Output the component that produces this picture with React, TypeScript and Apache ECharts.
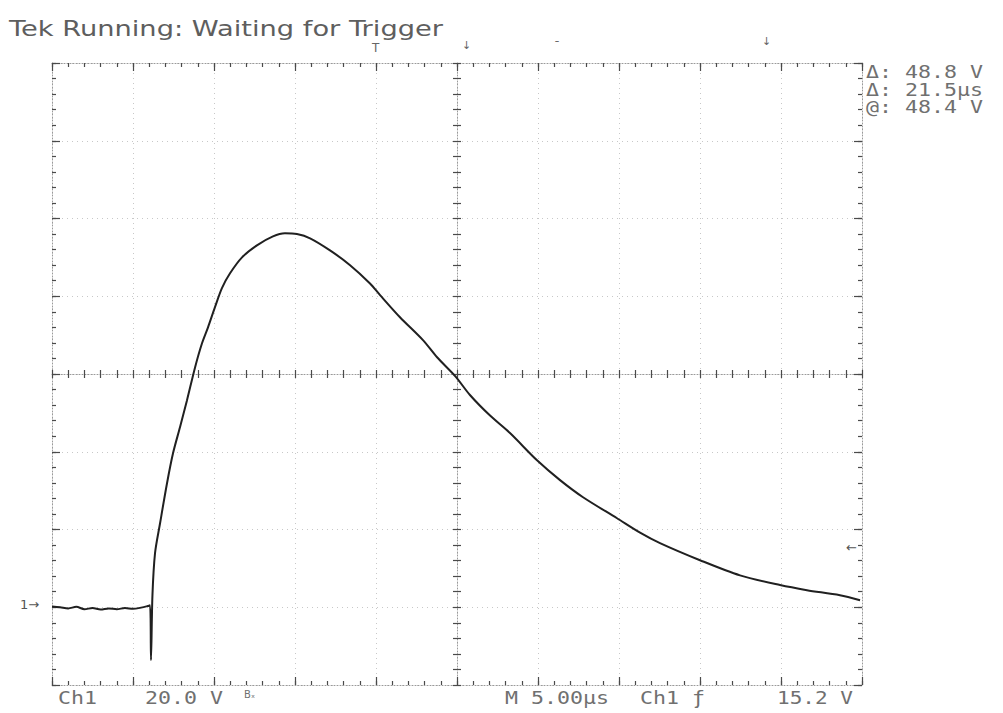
import React, { useEffect, useRef } from "react";
import * as echarts from "echarts";

// Time in microseconds (5 µs/div, 10 div), voltage in volts (20 V/div, ground at 0)
const timeUs = [
  0, 0.5, 1.0, 1.5, 2.0, 2.5, 3.0, 3.5, 4.0, 4.5, 5.0, 5.5, 5.9, 6.05, 6.11, 6.2,
  6.36, 6.67, 7.1, 7.47, 7.9, 8.33, 8.83, 9.26, 9.63, 10.06, 10.49, 10.99, 11.73,
  12.65, 13.64, 14.38, 15.12, 15.93, 17.16, 18.4, 19.63, 20.25, 21.48, 22.9, 23.77,
  24.9, 25.8, 27.04, 28.27, 29.94, 31.36, 32.78, 34.88, 36.3, 37.53, 40.0, 42.47,
  44.94, 46.6, 48.64, 49.88,
];
const voltV = [
  0.2, 0.0, -0.3, 0.1, -0.5, -0.2, -0.6, -0.3, -0.5, -0.2, -0.4, -0.1, 0.3, 0.5, -13.6, 3.0,
  13.9, 21.6, 31.9, 39.6, 46.3, 53.2, 61.7, 67.9, 72.0, 77.2, 82.1, 85.9, 90.0,
  93.1, 95.4, 96.2, 96.0, 94.9, 91.8, 88.0, 83.3, 80.3, 74.6, 68.7, 64.3,
  59.4, 54.6, 49.3, 44.8, 37.8, 32.7, 28.3, 22.9, 19.2, 16.5, 12.1, 8.2,
  5.7, 4.4, 3.1, 1.8,
];

const X_MIN = 0;
const X_MAX = 50;
const X_DIV = 5;
const X_MINOR = 1;
const Y_MIN = -20;
const Y_MAX = 140;
const Y_DIV = 20;
const Y_MINOR = 4;

const titleText = "Tek Running: Waiting for Trigger";
const readouts = ["\u0394: 48.8 V", "\u0394: 21.5\u00b5s", "@: 48.4 V"];
const bottomTexts = ["Ch1", "20.0 V", "M 5.00\u00b5s", "Ch1 \u0192", "15.2 V"];

const FONT = "DejaVu Sans";
const MONO = "DejaVu Sans Mono";
const TXT = "#707070";

export default function App() {
  const ref = useRef<HTMLDivElement>(null);

  useEffect(() => {
    if (!ref.current) return;
    const chart = echarts.init(ref.current, undefined, { renderer: "svg" });

    const gridH = 622;
    const gridW = 810;
    const dotted = { color: "#9a9a9a", type: [1, 2], width: 1 };

    const xAx = (interval: number, extra: any) => ({
      type: "value",
      min: X_MIN,
      max: X_MAX,
      interval,
      axisLabel: { show: false },
      splitLine: { show: false },
      axisLine: { show: false, onZero: false, lineStyle: dotted },
      ...extra,
    });
    const yAx = (interval: number, extra: any) => ({
      type: "value",
      min: Y_MIN,
      max: Y_MAX,
      interval,
      axisLabel: { show: false },
      splitLine: { show: false },
      axisLine: { show: false, onZero: false, lineStyle: dotted },
      ...extra,
    });
    const tick = (inside: boolean, length: number, color = "#4a4a4a") => ({
      show: true,
      inside,
      length,
      lineStyle: { color, width: 1.2 },
    });

    const option: any = {
      animation: false,
      backgroundColor: "#ffffff",
      grid: { left: 52, right: 141, top: 63, bottom: 28, containLabel: false },
      xAxis: [
        xAx(X_DIV, {
          position: "bottom",
          axisLine: { show: true, onZero: false, lineStyle: dotted },
          splitLine: { show: true, lineStyle: { color: "#c8c8c8", type: [1, 4], width: 1 } },
          axisTick: tick(true, 8),
        }),
        xAx(X_MINOR, { position: "bottom", axisTick: tick(true, 4) }),
        xAx(X_DIV, { position: "top", axisLine: { show: true, onZero: false, lineStyle: dotted }, axisTick: tick(true, 8) }),
        xAx(X_MINOR, { position: "top", axisTick: tick(true, 4) }),
        xAx(X_MINOR, {
          position: "bottom",
          offset: -gridH / 2,
          axisLine: { show: true, onZero: false, lineStyle: dotted },
          axisTick: tick(true, 4),
        }),
        xAx(X_MINOR, { position: "bottom", offset: -gridH / 2, axisTick: tick(false, 4) }),
      ],
      yAxis: [
        yAx(Y_DIV, {
          position: "left",
          axisLine: { show: true, onZero: false, lineStyle: dotted },
          splitLine: { show: true, lineStyle: { color: "#c8c8c8", type: [1, 4], width: 1 } },
          axisTick: tick(true, 8),
        }),
        yAx(Y_MINOR, { position: "left", axisTick: tick(true, 4) }),
        yAx(Y_DIV, { position: "right", axisLine: { show: true, onZero: false, lineStyle: dotted }, axisTick: tick(true, 8) }),
        yAx(Y_MINOR, { position: "right", axisTick: tick(true, 4) }),
        yAx(Y_MINOR, {
          position: "left",
          offset: -gridW / 2,
          axisLine: { show: true, onZero: false, lineStyle: dotted },
          axisTick: tick(true, 4),
        }),
        yAx(Y_MINOR, { position: "left", offset: -gridW / 2, axisTick: tick(false, 4) }),
      ],
      series: [
        {
          type: "line",
          xAxisIndex: 0,
          yAxisIndex: 0,
          data: timeUs.map((t, i) => [t, voltV[i]]),
          showSymbol: false,
          smooth: 0.3,
          lineStyle: { color: "#202020", width: 2 },
          z: 5,
        },
      ],
      graphic: [
        {
          type: "text",
          x: 9,
          y: 17,
          scaleX: 1.24,
          style: { text: titleText, fontFamily: FONT, fontSize: 22, fill: "#5e5e5e" },
        },
        ...readouts.map((s, i) => ({
          type: "text",
          x: 866,
          y: 64 + i * 17.5,
          scaleX: 1.27,
          style: { text: s, fontFamily: MONO, fontSize: 17, fill: TXT },
        })),
        { type: "text", x: 58, y: 689, scaleX: 1.2, style: { text: bottomTexts[0], fontFamily: MONO, fontSize: 18, fill: TXT } },
        { type: "text", x: 145, y: 689, scaleX: 1.2, style: { text: bottomTexts[1], fontFamily: MONO, fontSize: 18, fill: TXT } },
        { type: "text", x: 244, y: 689, style: { text: "B\u2093", fontFamily: FONT, fontSize: 10, fill: TXT } },
        { type: "text", x: 505, y: 689, scaleX: 1.2, style: { text: bottomTexts[2], fontFamily: MONO, fontSize: 18, fill: TXT } },
        { type: "text", x: 640, y: 689, scaleX: 1.2, style: { text: bottomTexts[3], fontFamily: MONO, fontSize: 18, fill: TXT } },
        { type: "text", x: 777, y: 689, scaleX: 1.17, style: { text: bottomTexts[4], fontFamily: MONO, fontSize: 18, fill: TXT } },
        { type: "text", x: 20, y: 598, style: { text: "1\u2192", fontFamily: FONT, fontSize: 13, fill: "#555" } },
        { type: "text", x: 372, y: 42, style: { text: "T", fontFamily: FONT, fontSize: 12, fill: "#666" } },
        { type: "text", x: 462, y: 40, style: { text: "\u2193", fontFamily: FONT, fontSize: 11, fill: "#666" } },
        { type: "text", x: 554, y: 40, style: { text: "\u00af", fontFamily: FONT, fontSize: 12, fill: "#666" } },
        { type: "text", x: 762, y: 36, style: { text: "\u2193", fontFamily: FONT, fontSize: 11, fill: "#666" } },
        { type: "text", x: 846, y: 541, style: { text: "\u2190", fontFamily: FONT, fontSize: 13, fill: "#555" } },
      ],
    };

    chart.setOption(option);
    return () => chart.dispose();
  }, []);

  return <div ref={ref} style={{ width: 1003, height: 713, position: "absolute", left: 0, top: 0 }} />;
}
